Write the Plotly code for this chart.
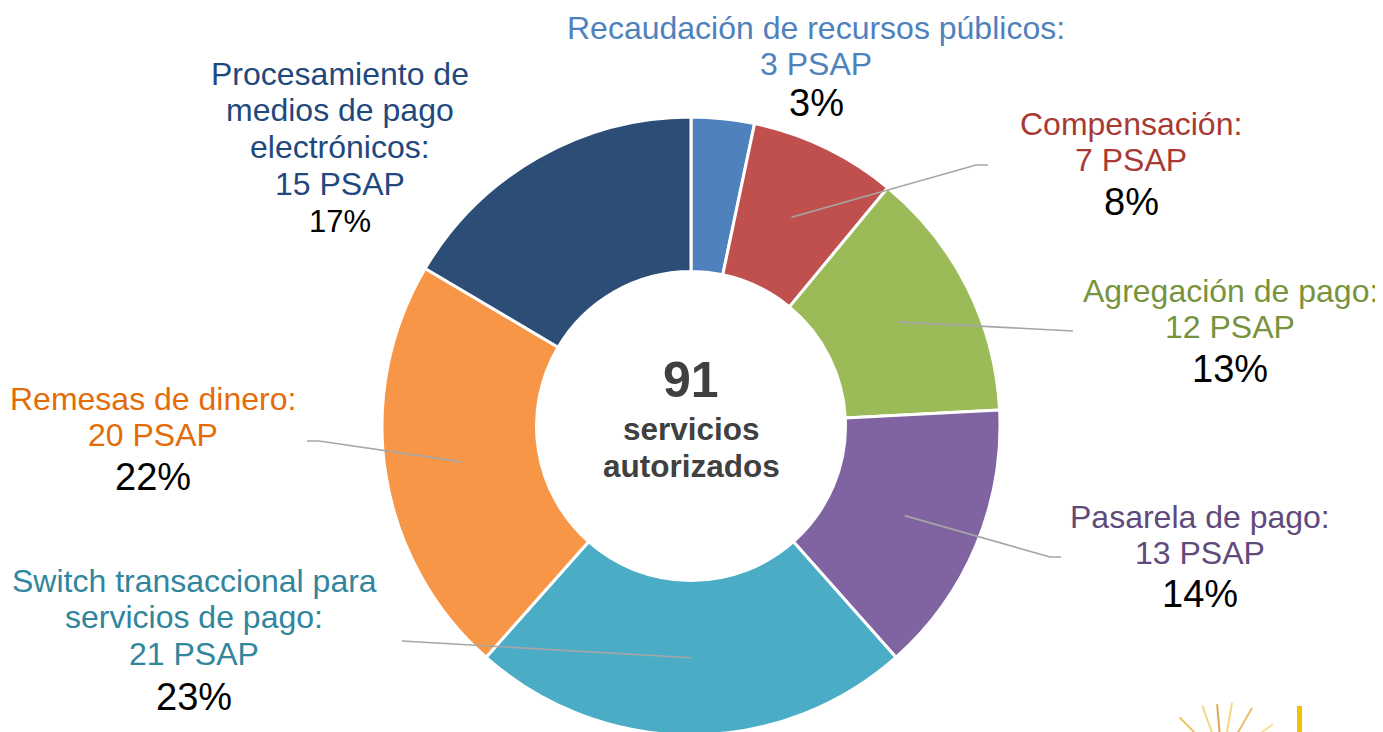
import math

import plotly.graph_objects as go

# data (clockwise from 12 o'clock)
categories = [
    "Recaudación de recursos públicos:",
    "Compensación:",
    "Agregación de pago:",
    "Pasarela de pago:",
    "Switch transaccional para<br>servicios de pago:",
    "Remesas de dinero:",
    "Procesamiento de<br>medios de pago<br>electrónicos:",
]
psap = [3, 7, 12, 13, 21, 20, 15]
pct_labels = ["3%", "8%", "13%", "14%", "23%", "22%", "17%"]
center_caption = ["servicios", "autorizados"]

slice_colors = ["#4F81BD", "#C0504D", "#9BBB59", "#8064A2", "#4BACC6", "#F79646", "#2C4D75"]
text_colors = ["#4F81BD", "#A83A35", "#77933C", "#5F4A7B", "#31859C", "#E36C09", "#1F497D"]

W, H = 1383, 732
OFF = 8  # page body margin shifts the svg by this much
CX, CY, R = 691, 426, 309  # pie centre / radius in screen pixels
FONT = "Liberation Sans, Arial, sans-serif"

# label placement: centre x, first baseline, percent baseline, percent size, leader end points
label_pos = [
    (816, 39, 116, 38, []),
    (1131, 135, 215, 38, [(976, 165), (988, 165)]),
    (1230, 302, 382, 38, [(1073, 331)]),
    (1200, 528, 607, 38, [(1050, 557), (1061, 557)]),
    (194, 592, 710, 38, [(402, 641)]),
    (153, 410, 490, 38, [(319, 441), (307, 441)]),
    (340, 85, 232, 31, []),
]


def px(x):
    return (x - OFF) / W


def py(y):
    return 1 - (y - OFF) / H


fig = go.Figure(
    go.Pie(
        values=psap,
        labels=[c.replace("<br>", " ") for c in categories],
        sort=False,
        direction="clockwise",
        rotation=0,
        hole=0.5,
        marker=dict(colors=slice_colors, line=dict(color="white", width=3)),
        textinfo="none",
        hoverinfo="label+value+percent",
        domain=dict(x=[px(CX - R), px(CX + R)], y=[py(CY + R), py(CY - R)]),
    )
)

annotations = []
shapes = []
LABEL_SIZE = 32
LINE_GAP = 36.6


def add_text(text, x, baseline, size, color, bold=False):
    if bold:
        text = f"<b>{text}</b>"
    annotations.append(
        dict(
            text=text,
            x=px(x),
            y=py(baseline - 0.35 * size),
            xref="paper",
            yref="paper",
            xanchor="center",
            yanchor="middle",
            showarrow=False,
            font=dict(family=FONT, size=size, color=color),
        )
    )


total = sum(psap)
cum = 0
for i, (cat, v) in enumerate(zip(categories, psap)):
    x, base, pbase, psize, leader = label_pos[i]
    lines = cat.split("<br>") + [f"{v} PSAP"]
    for k, line in enumerate(lines):
        add_text(line, x, base + k * LINE_GAP, LABEL_SIZE, text_colors[i])
    add_text(pct_labels[i], x, pbase, psize, "black")

    # leader line from the middle of the ring
    mid = (cum + v / 2) / total * 2 * math.pi
    cum += v
    if leader:
        r = R * 0.75
        pts = [(CX + r * math.sin(mid), CY - r * math.cos(mid))] + leader
        path = "M " + " L ".join(f"{px(a)},{py(b)}" for a, b in pts)
        shapes.append(
            dict(type="path", path=path, xref="paper", yref="paper",
                 line=dict(color="#A6A6A6", width=1.6))
        )

# centre text
add_text(str(total), CX, 397, 50, "#404040", bold=True)
add_text(center_caption[0], CX, 440, 31.5, "#404040", bold=True)
add_text(center_caption[1], CX, 477, 31.5, "#404040", bold=True)

# bit of the logo peeking in at the bottom right
shapes.append(dict(type="rect", xref="paper", yref="paper",
                   x0=px(1297), x1=px(1302), y0=py(740), y1=py(706),
                   fillcolor="#F2C200", line=dict(width=0)))
for ang, ln, col in [(-70, 40, "#F7E39A"), (-45, 38, "#EBC36A"), (-20, 36, "#F4D77F"),
                     (-5, 34, "#D9A85A"), (10, 36, "#F4D77F"), (30, 38, "#E8BD6A"),
                     (55, 40, "#F7E39A")]:
    a = math.radians(ang)
    x0, y0 = 1222 + 22 * math.sin(a), 760 - 22 * math.cos(a)
    x1, y1 = 1222 + (22 + ln) * math.sin(a), 760 - (22 + ln) * math.cos(a)
    shapes.append(dict(type="line", xref="paper", yref="paper",
                       x0=px(x0), y0=py(y0), x1=px(x1), y1=py(y1),
                       line=dict(color=col, width=2)))

fig.update_layout(
    width=W,
    height=H,
    margin=dict(l=0, r=0, t=0, b=0),
    paper_bgcolor="white",
    plot_bgcolor="white",
    showlegend=False,
    annotations=annotations,
    shapes=shapes,
)

fig.write_html("out.html")
